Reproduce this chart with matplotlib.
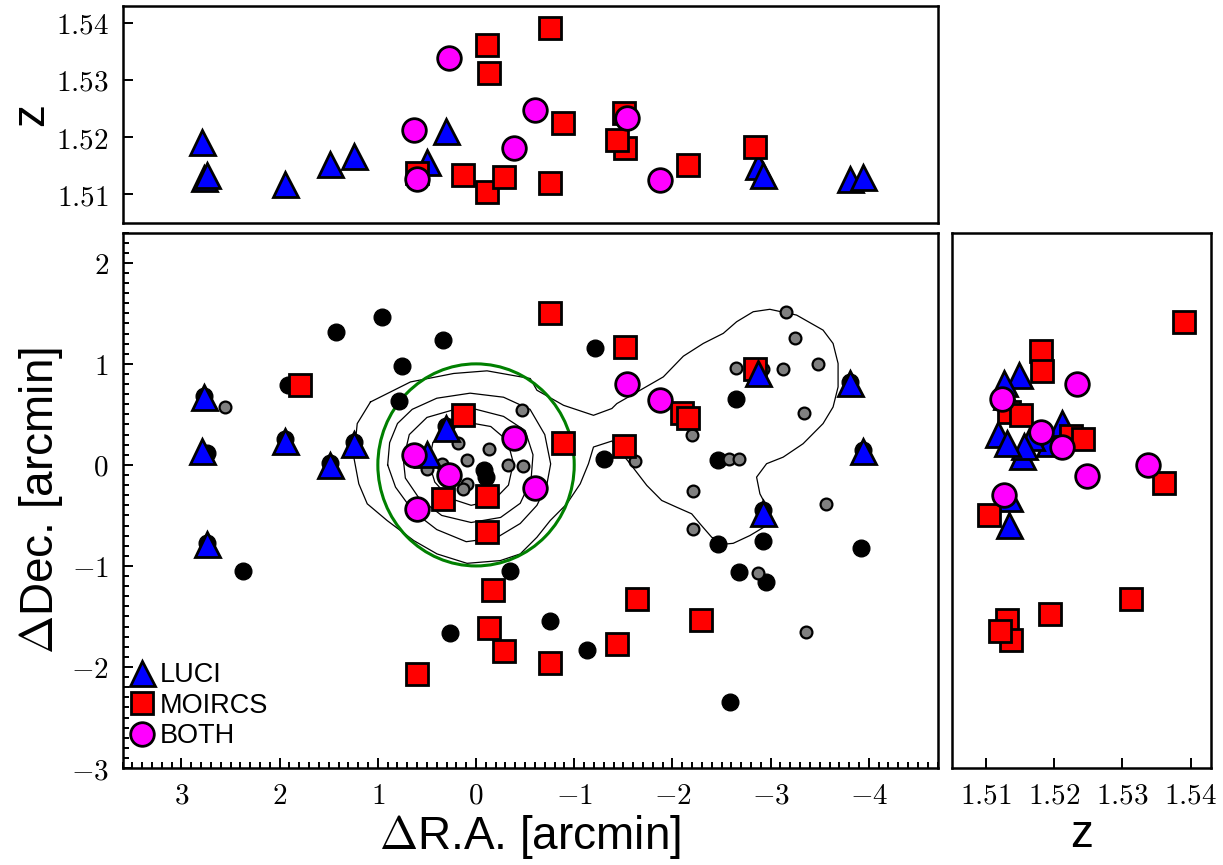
import numpy as np
import matplotlib
matplotlib.use("Agg")
import matplotlib.pyplot as plt
from matplotlib.patches import Circle
from matplotlib.ticker import MultipleLocator, FixedLocator, FuncFormatter, NullLocator

plt.rcParams["mathtext.fontset"] = "cm"
plt.rcParams["font.family"] = ["Liberation Sans", "DejaVu Sans"]

# LUCI targets: offsets (arcmin) and redshift
luci_ra = [2.79, 2.77, 2.74, 1.95, 1.49, 1.24, 0.50, 0.305, -2.87, -2.92, -3.81, -3.94]
luci_dec = [0.14, 0.67, -0.78, 0.24, 0.00, 0.21, 0.11, 0.37, 0.905, -0.48, 0.81, 0.14]
luci_z = [1.5192, 1.5129, 1.5133, 1.5117, 1.5153, 1.5166, 1.5156, 1.5211,
          1.5149, 1.5134, 1.5126, 1.5130]

# MOIRCS targets (nan = no redshift shown)
moircs_ra = [1.79, 0.13, 0.34, -0.11, -0.11, -0.17, -0.135, -0.28, 0.60, -0.75,
             -1.52, -0.89, -1.51, -2.10, -2.16, -2.84, -1.64, -2.29, -1.44, -0.755]
moircs_dec = [0.79, 0.49, -0.34, -0.31, -0.66, -1.24, -1.61, -1.84, -2.07, 1.50,
              1.17, 0.22, 0.19, 0.51, 0.46, 0.95, -1.33, -1.53, -1.77, -1.96]
moircs_z = [np.nan, 1.5134, np.nan, 1.5361, 1.5104, np.nan, 1.5313, 1.5130, 1.5137, 1.5391,
            1.5181, 1.5225, 1.5242, np.nan, 1.5151, 1.5182, np.nan, np.nan, 1.5194, 1.5120]

# targets observed with both instruments
both_ra = [0.28, 0.63, 0.60, -0.39, -0.60, -1.54, -1.87]
both_dec = [-0.10, 0.10, -0.44, 0.27, -0.23, 0.80, 0.64]
both_z = [1.5338, 1.5212, 1.5127, 1.5180, 1.5248, 1.5233, 1.5124]

# other cluster galaxies
black_ra = [1.43, 0.96, 0.34, 0.75, 1.92, 0.78, 2.77, 2.74, 1.95, 1.49, 1.24, 0.31,
            2.74, 2.37, 0.27, -0.35, -0.755, -1.13, -2.59, -2.46, -2.92, -2.68,
            -2.95, -3.92, -1.21, -2.65, -1.30, -2.46, -0.08, -0.10, -3.81, -3.94, -2.92]
black_dec = [1.32, 1.46, 1.24, 0.98, 0.79, 0.63, 0.68, 0.12, 0.26, 0.02, 0.23, 0.39,
             -0.77, -1.05, -1.66, -1.05, -1.54, -1.83, -2.35, -0.78, -0.75, -1.06,
             -1.16, -0.82, 1.16, 0.65, 0.06, 0.045, -0.05, -0.12, 0.82, 0.15, -0.45]
gray_ra = [2.56, -0.47, 0.18, -0.13, 0.09, -0.33, -0.48, 0.50, 0.35, 0.09, 0.13,
           -3.16, -3.25, -3.48, -3.13, -2.65, -2.92, -3.34, -2.20, -1.62, -2.58,
           -2.68, -2.21, -3.56, -2.21, -2.87, -3.36]
gray_dec = [0.57, 0.54, 0.22, 0.16, 0.045, 0.0, -0.01, -0.04, 0.01, -0.19, -0.24,
            1.51, 1.26, 1.00, 0.95, 0.955, 0.95, 0.51, 0.30, 0.035, 0.055,
            0.055, -0.26, -0.39, -0.63, -1.07, -1.65]

cont1_ra = [1.075, 0.668, 0.228, -0.112, -0.552, -0.620, -0.891, -1.196, -1.383, -1.434,
            -1.671, -1.907, -2.111, -2.314, -2.518, -2.654, -2.823, -2.992, -3.264, -3.534,
            -3.636, -3.687, -3.687, -3.636, -3.534, -3.331, -3.128, -2.959, -2.857, -2.891,
            -2.959, -2.985, -2.789, -2.619, -2.552, -2.400, -2.281, -2.196, -2.044, -1.891,
            -1.739, -1.569, -1.383, -1.196, -1.145, -1.061, -0.925, -0.755, -0.620, -0.450,
            -0.247, 0.092, 0.397, 0.634, 0.905, 1.108, 1.194, 1.245, 1.210, 1.075]
cont1_dec = [0.623, 0.821, 0.905, 0.931, 0.855, 0.739, 0.590, 0.491, 0.558, 0.607,
             0.739, 0.871, 1.076, 1.202, 1.302, 1.417, 1.516, 1.540, 1.483, 1.334,
             1.202, 1.004, 0.772, 0.573, 0.409, 0.210, 0.077, 0.012, -0.121, -0.286,
             -0.412, -0.585, -0.699, -0.776, -0.782, -0.716, -0.583, -0.484, -0.419, -0.352,
             -0.203, 0.012, 0.236, 0.177, 0.012, -0.187, -0.385, -0.551, -0.716, -0.881,
             -0.947, -0.974, -0.881, -0.749, -0.551, -0.385, -0.187, 0.077, 0.409, 0.623]
cont2_ra = [0.90, 0.88, 0.80, 0.65, 0.40, 0.06, -0.28, -0.55, -0.70, -0.76, -0.72,
            -0.62, -0.45, -0.21, 0.10, 0.40, 0.64, 0.82, 0.90]
cont2_dec = [0.00, 0.22, 0.41, 0.55, 0.66, 0.71, 0.67, 0.55, 0.30, 0.01, -0.20,
             -0.40, -0.58, -0.72, -0.76, -0.64, -0.46, -0.22, 0.00]
cont3_ra = [0.74, 0.68, 0.50, 0.25, 0.00, -0.28, -0.50, -0.58, -0.56, -0.45, -0.25,
            0.05, 0.35, 0.58, 0.72, 0.74]
cont3_dec = [0.05, 0.30, 0.47, 0.54, 0.55, 0.48, 0.34, 0.10, -0.15, -0.38, -0.52,
             -0.57, -0.50, -0.33, -0.13, 0.05]
cont4_ra = [0.48, 0.44, 0.30, 0.08, -0.15, -0.32, -0.38, -0.33, -0.18, 0.05, 0.27, 0.42, 0.48]
cont4_dec = [0.02, 0.22, 0.37, 0.42, 0.38, 0.24, 0.02, -0.20, -0.35, -0.40, -0.33, -0.17, 0.02]

LUCI_STYLE = dict(ls="none", marker="^", ms=18, mfc="blue", mec="black", mew=2)
MOIRCS_STYLE = dict(ls="none", marker="s", ms=16, mfc="red", mec="black", mew=2)
BOTH_STYLE = dict(ls="none", marker="o", ms=17, mfc="magenta", mec="black", mew=2)

TICK_SIZE = 21
LABEL_SIZE = 33


def math_fmt(fmt):
    return FuncFormatter(lambda v, pos: "$" + (fmt % v) + "$")


def style_axis(ax):
    for sp in ax.spines.values():
        sp.set_linewidth(1.8)
    ax.tick_params(which="both", direction="in", width=1.4, labelsize=TICK_SIZE, pad=10)
    ax.tick_params(which="major", length=7)
    ax.tick_params(which="minor", length=4)


fig = plt.figure(figsize=(12.23, 8.65), dpi=100)
ax_main = fig.add_axes([0.1002, 0.1121, 0.6664, 0.6191])
ax_top = fig.add_axes([0.1002, 0.7425, 0.6664, 0.2509])
ax_right = fig.add_axes([0.7784, 0.1121, 0.2118, 0.6191])

# main map
for cra, cdec in [(cont1_ra, cont1_dec), (cont2_ra, cont2_dec),
                  (cont3_ra, cont3_dec), (cont4_ra, cont4_dec)]:
    ax_main.plot(cra, cdec, color="black", lw=0.9, zorder=1)
ax_main.add_patch(Circle((0, 0), 1.0, fill=False, ec="green", lw=2.2, zorder=2))
ax_main.plot(black_ra, black_dec, ls="none", marker="o", ms=12, mfc="black", mec="black", zorder=3)
ax_main.plot(gray_ra, gray_dec, ls="none", marker="o", ms=8.5, mfc="gray", mec="black", mew=1.6, zorder=3)
h_m, = ax_main.plot(moircs_ra, moircs_dec, zorder=4, **MOIRCS_STYLE)
h_l, = ax_main.plot(luci_ra, luci_dec, zorder=5, **LUCI_STYLE)
h_b, = ax_main.plot(both_ra, both_dec, zorder=6, **BOTH_STYLE)

ax_main.set_xlim(3.6, -4.7)
ax_main.set_ylim(-3.0, 2.3)
ax_main.xaxis.set_major_locator(MultipleLocator(1))
ax_main.xaxis.set_minor_locator(MultipleLocator(0.1))
ax_main.yaxis.set_major_locator(MultipleLocator(1))
ax_main.yaxis.set_minor_locator(MultipleLocator(0.1))
ax_main.xaxis.set_major_formatter(math_fmt("%g"))
ax_main.yaxis.set_major_formatter(math_fmt("%g"))
style_axis(ax_main)
ax_main.set_xlabel(r"$\Delta$R.A. [arcmin]", fontsize=LABEL_SIZE, labelpad=2)
ax_main.set_ylabel(r"$\Delta$Dec. [arcmin]", fontsize=LABEL_SIZE, labelpad=4)
ax_main.legend([h_l, h_m, h_b], ["LUCI", "MOIRCS", "BOTH"], loc="lower left",
               bbox_to_anchor=(0.012, 0.035), frameon=False, fontsize=19.5, numpoints=1,
               handlelength=0.7, handletextpad=0.3, labelspacing=0.17,
               borderaxespad=0.0, borderpad=0.0)

# redshift vs R.A.
ax_top.plot(luci_ra, luci_z, zorder=3, **LUCI_STYLE)
ax_top.plot(moircs_ra, moircs_z, zorder=4, **MOIRCS_STYLE)
ax_top.plot(both_ra, both_z, zorder=5, **BOTH_STYLE)
ax_top.set_xlim(3.6, -4.7)
ax_top.set_ylim(1.505, 1.543)
ax_top.yaxis.set_major_locator(FixedLocator([1.51, 1.52, 1.53, 1.54]))
ax_top.yaxis.set_major_formatter(math_fmt("%.2f"))
ax_top.xaxis.set_major_locator(NullLocator())
style_axis(ax_top)
ax_top.set_ylabel("z", fontsize=LABEL_SIZE, labelpad=2)

# Dec. vs redshift
ax_right.plot(luci_z, luci_dec, zorder=3, **LUCI_STYLE)
ax_right.plot(moircs_z, moircs_dec, zorder=4, **MOIRCS_STYLE)
ax_right.plot(both_z, both_dec, zorder=5, **BOTH_STYLE)
ax_right.set_xlim(1.505, 1.543)
ax_right.set_ylim(-3.5, 2.5)
ax_right.xaxis.set_major_locator(FixedLocator([1.51, 1.52, 1.53, 1.54]))
ax_right.xaxis.set_major_formatter(math_fmt("%.2f"))
ax_right.yaxis.set_major_locator(NullLocator())
style_axis(ax_right)
ax_right.set_xlabel("z", fontsize=LABEL_SIZE, labelpad=2)

fig.savefig("out.png", dpi=100)
